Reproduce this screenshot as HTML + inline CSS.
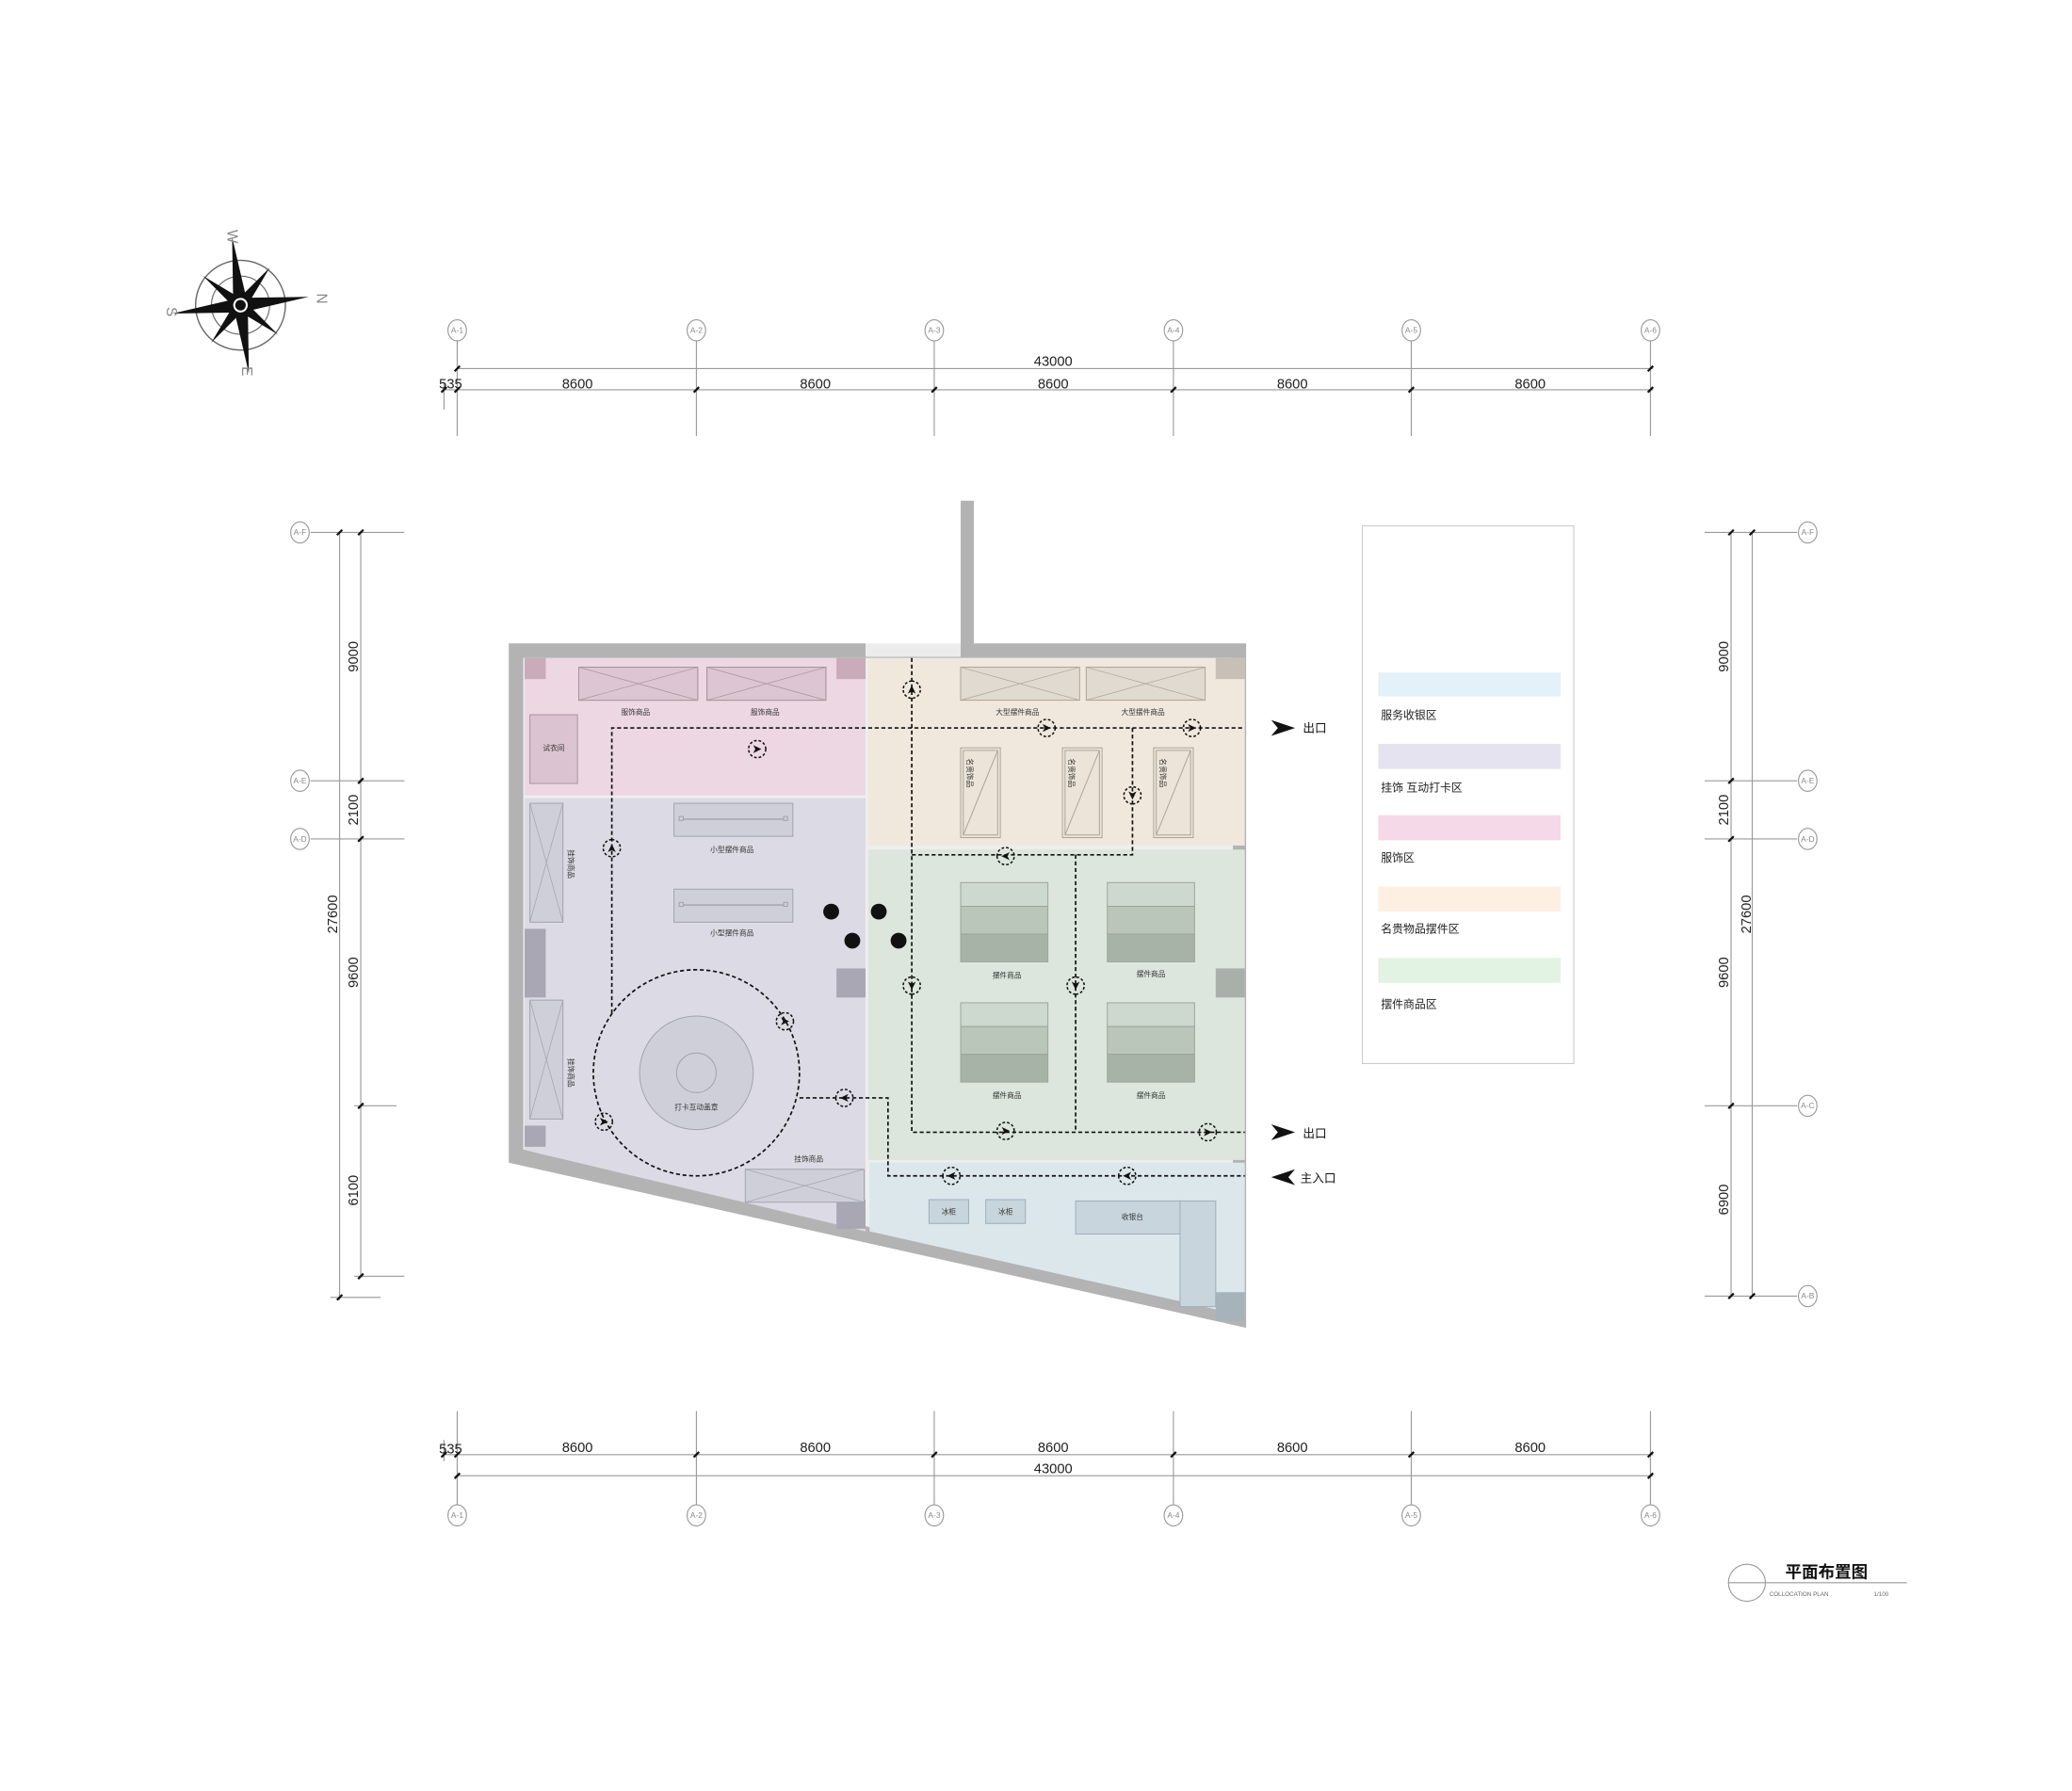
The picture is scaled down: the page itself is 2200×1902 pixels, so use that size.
<!DOCTYPE html>
<html><head><meta charset="utf-8"><style>html,body{margin:0;padding:0;background:#fff}svg{display:block}</style></head>
<body>
<svg width="2200" height="1902" viewBox="0 0 1568 1355.6" xmlns="http://www.w3.org/2000/svg" font-family="Liberation Sans, Noto Sans CJK SC, sans-serif">
<defs>
<g id="ac"><circle r="6.5" fill="none" stroke="#111" stroke-width="1.1" stroke-dasharray="2 1.5"/><path d="M-3,-3 L3.2,0 L-3,3 L-1.4,0Z" fill="#111"/></g>
<g id="bub"><ellipse rx="7" ry="8" fill="#fff" stroke="#999" stroke-width="0.8"/></g>
<g id="xb"><rect width="90" height="25" fill="#ddd" stroke="#999" stroke-width="0.7"/><path d="M0,0L90,25M0,25L90,0" stroke="#999" stroke-width="0.5"/></g>
</defs>
<rect width="1568" height="1356" fill="#fff"/>

<!-- compass -->
<g transform="translate(182,231) rotate(-7)" stroke="#666" fill="none">
<circle r="34" stroke-width="1"/><circle r="22" stroke-width="0.8"/>
<g fill="#111" stroke="none">
<path d="M0,-52 L5,-5 L0,0 L-5,-5Z"/><path d="M0,52 L5,5 L0,0 L-5,5Z"/>
<path d="M-52,0 L-5,5 L0,0 L-5,-5Z"/><path d="M52,0 L5,5 L0,0 L5,-5Z"/>
<g transform="rotate(45)"><path d="M0,-36 L4,-4 L0,0 L-4,-4Z"/><path d="M0,36 L4,4 L0,0 L-4,4Z"/><path d="M-36,0 L-4,4 L0,0 L-4,-4Z"/><path d="M36,0 L4,4 L0,0 L4,-4Z"/></g>
<circle r="6" fill="#fff" stroke="#111" stroke-width="1"/><circle r="4" fill="#111"/>
</g></g>
<g fill="#888" font-size="11">
<text x="176" y="183" transform="rotate(90 176 179)" text-anchor="middle">W</text>
<text x="130" y="240" transform="rotate(90 130 236)" text-anchor="middle">S</text>
<text x="244" y="230" transform="rotate(90 244 226)" text-anchor="middle">N</text>
<text x="187" y="285" transform="rotate(90 187 281)" text-anchor="middle">E</text>
</g>

<!-- top dims -->
<g stroke="#999" stroke-width="0.8">
<line x1="346" y1="279" x2="1251" y2="279"/><line x1="336" y1="295" x2="1251" y2="295"/>
<line x1="336" y1="290" x2="336" y2="310"/>
<line x1="346" y1="258" x2="346" y2="330"/><line x1="527" y1="258" x2="527" y2="330"/><line x1="707" y1="258" x2="707" y2="330"/><line x1="888" y1="258" x2="888" y2="330"/><line x1="1068" y1="258" x2="1068" y2="330"/><line x1="1249" y1="258" x2="1249" y2="330"/>
<line x1="346" y1="1068" x2="346" y2="1140"/><line x1="527" y1="1068" x2="527" y2="1140"/><line x1="707" y1="1068" x2="707" y2="1140"/><line x1="888" y1="1068" x2="888" y2="1140"/><line x1="1068" y1="1068" x2="1068" y2="1140"/><line x1="1249" y1="1068" x2="1249" y2="1140"/>
<line x1="336" y1="1101" x2="1251" y2="1101"/><line x1="346" y1="1117" x2="1251" y2="1117"/>
<line x1="336" y1="1090" x2="336" y2="1106"/>
</g>
<g stroke="#111" stroke-width="1.6">
<path d="M344,281l4,-4M344,297l4,-4M525,297l4,-4M705,297l4,-4M886,297l4,-4M1066,297l4,-4M1247,297l4,-4M1247,281l4,-4M334,297l4,-4"/>
<path d="M344,1103l4,-4M525,1103l4,-4M705,1103l4,-4M886,1103l4,-4M1066,1103l4,-4M1247,1103l4,-4M344,1119l4,-4M1247,1119l4,-4M334,1103l4,-4"/>
</g>
<g font-size="10.5" fill="#222" text-anchor="middle">
<text x="797" y="277">43000</text><text x="341" y="294">535</text>
<text x="437" y="294">8600</text><text x="617" y="294">8600</text><text x="797" y="294">8600</text><text x="978" y="294">8600</text><text x="1158" y="294">8600</text>
<text x="341" y="1100">535</text>
<text x="437" y="1099">8600</text><text x="617" y="1099">8600</text><text x="797" y="1099">8600</text><text x="978" y="1099">8600</text><text x="1158" y="1099">8600</text>
<text x="797" y="1115">43000</text>
</g>
<g font-size="6" fill="#888" text-anchor="middle">
<g><use href="#bub" x="346" y="250"/><text x="346" y="252">A-1</text></g>
<g><use href="#bub" x="527" y="250"/><text x="527" y="252">A-2</text></g>
<g><use href="#bub" x="707" y="250"/><text x="707" y="252">A-3</text></g>
<g><use href="#bub" x="888" y="250"/><text x="888" y="252">A-4</text></g>
<g><use href="#bub" x="1068" y="250"/><text x="1068" y="252">A-5</text></g>
<g><use href="#bub" x="1249" y="250"/><text x="1249" y="252">A-6</text></g>
<g><use href="#bub" x="346" y="1147"/><text x="346" y="1149">A-1</text></g>
<g><use href="#bub" x="527" y="1147"/><text x="527" y="1149">A-2</text></g>
<g><use href="#bub" x="707" y="1147"/><text x="707" y="1149">A-3</text></g>
<g><use href="#bub" x="888" y="1147"/><text x="888" y="1149">A-4</text></g>
<g><use href="#bub" x="1068" y="1147"/><text x="1068" y="1149">A-5</text></g>
<g><use href="#bub" x="1249" y="1147"/><text x="1249" y="1149">A-6</text></g>
</g>

<!-- left dims -->
<g stroke="#999" stroke-width="0.8">
<line x1="257" y1="403" x2="257" y2="984"/><line x1="273" y1="403" x2="273" y2="966"/>
<line x1="235" y1="403" x2="306" y2="403"/><line x1="235" y1="591" x2="306" y2="591"/><line x1="235" y1="635" x2="306" y2="635"/>
<line x1="268" y1="837" x2="300" y2="837"/><line x1="268" y1="966" x2="306" y2="966"/><line x1="250" y1="982" x2="288" y2="982"/>
<line x1="1290" y1="403" x2="1360" y2="403"/><line x1="1290" y1="591" x2="1360" y2="591"/><line x1="1290" y1="635" x2="1360" y2="635"/><line x1="1290" y1="837" x2="1360" y2="837"/><line x1="1290" y1="981" x2="1360" y2="981"/>
<line x1="1310" y1="403" x2="1310" y2="981"/><line x1="1326" y1="403" x2="1326" y2="981"/>
</g>
<g stroke="#111" stroke-width="1.6">
<path d="M255,405l4,-4M271,405l4,-4M271,593l4,-4M271,637l4,-4M271,839l4,-4M271,968l4,-4M255,984l4,-4"/>
<path d="M1308,405l4,-4M1324,405l4,-4M1308,593l4,-4M1308,637l4,-4M1308,839l4,-4M1308,983l4,-4M1324,983l4,-4"/>
</g>
<g font-size="10.5" fill="#222" text-anchor="middle">
<text transform="translate(271,497) rotate(-90)">9000</text>
<text transform="translate(271,613) rotate(-90)">2100</text>
<text transform="translate(255,692) rotate(-90)">27600</text>
<text transform="translate(271,736) rotate(-90)">9600</text>
<text transform="translate(271,901) rotate(-90)">6100</text>
<text transform="translate(1308,497) rotate(-90)">9000</text>
<text transform="translate(1308,613) rotate(-90)">2100</text>
<text transform="translate(1325,692) rotate(-90)">27600</text>
<text transform="translate(1308,736) rotate(-90)">9600</text>
<text transform="translate(1308,908) rotate(-90)">6900</text>
</g>
<g font-size="6" fill="#888" text-anchor="middle">
<g><use href="#bub" x="227" y="403"/><text x="227" y="405">A-F</text></g>
<g><use href="#bub" x="227" y="591"/><text x="227" y="593">A-E</text></g>
<g><use href="#bub" x="227" y="635"/><text x="227" y="637">A-D</text></g>
<g><use href="#bub" x="1368" y="403"/><text x="1368" y="405">A-F</text></g>
<g><use href="#bub" x="1368" y="591"/><text x="1368" y="593">A-E</text></g>
<g><use href="#bub" x="1368" y="635"/><text x="1368" y="637">A-D</text></g>
<g><use href="#bub" x="1368" y="837"/><text x="1368" y="839">A-C</text></g>
<g><use href="#bub" x="1368" y="981"/><text x="1368" y="983">A-B</text></g>
</g>

<!-- plan walls -->
<path d="M385,487 L655,487 L655,497 L727,497 L727,379 L737,379 L737,487 L943,487 L943,1005 L385,880Z" fill="#b3b3b3"/>
<rect x="655" y="487" width="72" height="10" fill="#ececec"/>
<!-- zones -->
<path d="M396,498 L933,498 L933,990 L412,874 L396,870Z" fill="#eee"/>
<rect x="397" y="498" width="258" height="104" fill="#ecd7e3"/>
<path d="M397,604 L655,604 L655,932 L412,874 L397,870Z" fill="#dcdbe5"/>
<rect x="657" y="498" width="285" height="142" fill="#f0e8dd"/>
<rect x="657" y="643" width="285" height="235" fill="#dce6dc"/>
<path d="M658,880 L942,880 L942,996 L658,932Z" fill="#dce7ec"/>
<!-- columns -->
<rect x="397" y="498" width="16" height="16" fill="#c9abba"/>
<rect x="633" y="498" width="22" height="16" fill="#c9abba"/>
<rect x="920" y="498" width="22" height="16" fill="#c8bfb6"/>
<rect x="397" y="703" width="16" height="52" fill="#a8a7b3"/>
<rect x="633" y="733" width="22" height="22" fill="#a8a7b3"/>
<rect x="920" y="733" width="22" height="22" fill="#a9b0aa"/>
<rect x="397" y="852" width="16" height="16" fill="#a8a7b3"/>
<rect x="633" y="908" width="22" height="22" fill="#a8a7b3"/>
<rect x="920" y="978" width="22" height="22" fill="#a7b3ba"/>

<!-- furniture -->
<use href="#xb" x="438" y="505" style="--c:#dcc3d2"/>
<use href="#xb" x="535" y="505"/>
<rect x="438" y="505" width="90" height="25" fill="#dcc3d2" fill-opacity="0.9" stroke="#a9929f" stroke-width="0.7"/><path d="M438,505L528,530M438,530L528,505" stroke="#a9929f" stroke-width="0.5"/>
<rect x="535" y="505" width="90" height="25" fill="#dcc3d2" fill-opacity="0.9" stroke="#a9929f" stroke-width="0.7"/><path d="M535,505L625,530M535,530L625,505" stroke="#a9929f" stroke-width="0.5"/>
<rect x="401" y="541" width="36" height="52" fill="#dcc3d2" stroke="#a9929f" stroke-width="0.7"/>
<rect x="727" y="505" width="90" height="25" fill="#e1dad0" stroke="#aaa398" stroke-width="0.7"/><path d="M727,505L817,530M727,530L817,505" stroke="#aaa398" stroke-width="0.5"/>
<rect x="822" y="505" width="90" height="25" fill="#e1dad0" stroke="#aaa398" stroke-width="0.7"/><path d="M822,505L912,530M822,530L912,505" stroke="#aaa398" stroke-width="0.5"/>
<g fill="#ece4d9" stroke="#aaa398" stroke-width="0.7">
<rect x="727" y="566" width="30" height="68"/><rect x="729" y="568" width="26" height="64" fill="none"/><path d="M729,632L755,568"/>
<rect x="804" y="566" width="30" height="68"/><rect x="806" y="568" width="26" height="64" fill="none"/><path d="M806,632L832,568"/>
<rect x="873" y="566" width="30" height="68"/><rect x="875" y="568" width="26" height="64" fill="none"/><path d="M875,632L901,568"/>
</g>
<g fill="#cfcfda" stroke="#a2a2ae" stroke-width="0.7">
<rect x="401" y="608" width="25" height="90"/><path d="M401,608L426,698M401,698L426,608" stroke-width="0.5"/>
<rect x="401" y="757" width="25" height="90"/><path d="M401,757L426,847M401,847L426,757" stroke-width="0.5"/>
<rect x="510" y="608" width="90" height="25"/><path d="M516,620L594,620" stroke-width="1"/><rect x="514" y="618" width="3" height="3"/><rect x="593" y="618" width="3" height="3"/>
<rect x="510" y="673" width="90" height="25"/><path d="M516,685L594,685" stroke-width="1"/><rect x="514" y="683" width="3" height="3"/><rect x="593" y="683" width="3" height="3"/>
<rect x="564" y="885" width="90" height="25"/><path d="M564,885L654,910M564,910L654,885" stroke-width="0.5"/>
<circle cx="527" cy="812" r="43"/><circle cx="527" cy="812" r="15"/>
</g>
<circle cx="527" cy="812" r="78" fill="none" stroke="#111" stroke-width="1.2" stroke-dasharray="3 2"/>
<g fill="#111"><circle cx="629" cy="690" r="6"/><circle cx="665" cy="690" r="6"/><circle cx="645" cy="712" r="6"/><circle cx="680" cy="712" r="6"/></g>
<g stroke="#9aa69a" stroke-width="0.7">
<g transform="translate(727,668)"><rect width="66" height="18" fill="#cdd9cf"/><rect y="18" width="66" height="21" fill="#b9c6b9"/><rect y="39" width="66" height="21" fill="#a6b3a6"/></g>
<g transform="translate(838,668)"><rect width="66" height="18" fill="#cdd9cf"/><rect y="18" width="66" height="21" fill="#b9c6b9"/><rect y="39" width="66" height="21" fill="#a6b3a6"/></g>
<g transform="translate(727,759)"><rect width="66" height="18" fill="#cdd9cf"/><rect y="18" width="66" height="21" fill="#b9c6b9"/><rect y="39" width="66" height="21" fill="#a6b3a6"/></g>
<g transform="translate(838,759)"><rect width="66" height="18" fill="#cdd9cf"/><rect y="18" width="66" height="21" fill="#b9c6b9"/><rect y="39" width="66" height="21" fill="#a6b3a6"/></g>
</g>
<g fill="#c9d5dd" stroke="#9eacb5" stroke-width="0.7">
<rect x="703" y="908" width="30" height="18"/><rect x="746" y="908" width="30" height="18"/>
<rect x="814" y="909" width="80" height="25"/><rect x="893" y="909" width="27" height="80"/>
</g>

<!-- paths -->
<g fill="none" stroke="#111" stroke-width="1.2" stroke-dasharray="3 2">
<path d="M690,498 L690,857 L942,857"/>
<path d="M463,767 L463,551 L942,551"/>
<path d="M857,551 L857,647 L690,647"/>
<path d="M814,647 L814,857"/>
<path d="M605,831 L672,831 L672,890 L942,890"/>
</g>
<use href="#ac" transform="translate(690,522) rotate(-90)"/>
<use href="#ac" transform="translate(792,551)"/>
<use href="#ac" transform="translate(902,551)"/>
<use href="#ac" transform="translate(573,567)"/>
<use href="#ac" transform="translate(857,602) rotate(90)"/>
<use href="#ac" transform="translate(761,648) rotate(180)"/>
<use href="#ac" transform="translate(463,642) rotate(-90)"/>
<use href="#ac" transform="translate(690,746) rotate(90)"/>
<use href="#ac" transform="translate(814,746) rotate(90)"/>
<use href="#ac" transform="translate(594,773)"/>
<use href="#ac" transform="translate(639,831) rotate(180)"/>
<use href="#ac" transform="translate(457,849)"/>
<use href="#ac" transform="translate(761,856)"/>
<use href="#ac" transform="translate(914,857)"/>
<use href="#ac" transform="translate(720,890) rotate(180)"/>
<use href="#ac" transform="translate(853,890) rotate(180)"/>

<!-- labels -->
<g font-size="5.5" fill="#333" text-anchor="middle">
<text x="481" y="541">服饰商品</text><text x="579" y="541">服饰商品</text>
<text x="419" y="568">试衣间</text>
<text x="770" y="541">大型摆件商品</text><text x="865" y="541">大型摆件商品</text>
<text x="554" y="645">小型摆件商品</text><text x="554" y="708">小型摆件商品</text>
<text x="527" y="840">打卡互动盖章</text>
<text x="612" y="879">挂饰商品</text>
<text x="762" y="740">摆件商品</text><text x="871" y="739">摆件商品</text>
<text x="762" y="831">摆件商品</text><text x="871" y="831">摆件商品</text>
<text x="718" y="919">冰柜</text><text x="761" y="919">冰柜</text><text x="857" y="923">收银台</text>
<text transform="translate(732,585) rotate(90)">名贵饰品</text>
<text transform="translate(809,585) rotate(90)">名贵饰品</text>
<text transform="translate(878,585) rotate(90)">名贵饰品</text>
<text transform="translate(430,654) rotate(90)">挂饰商品</text>
<text transform="translate(430,812) rotate(90)">挂饰商品</text>
</g>

<!-- exits -->
<g fill="#111">
<path d="M962,545 L980,551 L962,557 L967,551Z"/>
<path d="M962,851 L980,857 L962,863 L967,857Z"/>
<path d="M980,885 L962,891 L980,897 L975,891Z"/>
</g>
<g font-size="9" fill="#111"><text x="986" y="554">出口</text><text x="986" y="861">出口</text><text x="984" y="895">主入口</text></g>

<!-- legend -->
<rect x="1031" y="398" width="160" height="407" fill="#fff" stroke="#ccc" stroke-width="0.8"/>
<rect x="1043" y="509" width="138" height="18" fill="#e3f1f8"/>
<rect x="1043" y="563" width="138" height="19" fill="#e5e3f0"/>
<rect x="1043" y="617" width="138" height="19" fill="#f5d9e8"/>
<rect x="1043" y="671" width="138" height="19" fill="#fdf0e3"/>
<rect x="1043" y="725" width="138" height="19" fill="#e2f3e4"/>
<g font-size="8.5" fill="#222">
<text x="1045" y="544">服务收银区</text><text x="1045" y="599">挂饰 互动打卡区</text><text x="1045" y="652">服饰区</text><text x="1045" y="706">名贵物品摆件区</text><text x="1045" y="763">摆件商品区</text>
</g>

<!-- title -->
<circle cx="1322" cy="1198" r="14" fill="none" stroke="#999" stroke-width="0.8"/>
<line x1="1308" y1="1198" x2="1443" y2="1198" stroke="#999" stroke-width="0.8"/>
<text x="1351" y="1194" font-size="12.5" font-weight="bold" fill="#111">平面布置图</text>
<text x="1339" y="1208" font-size="4.5" fill="#666">COLLOCATION PLAN</text>
<text x="1418" y="1208" font-size="4.5" fill="#666">1/100</text>
</svg>
</body></html>
